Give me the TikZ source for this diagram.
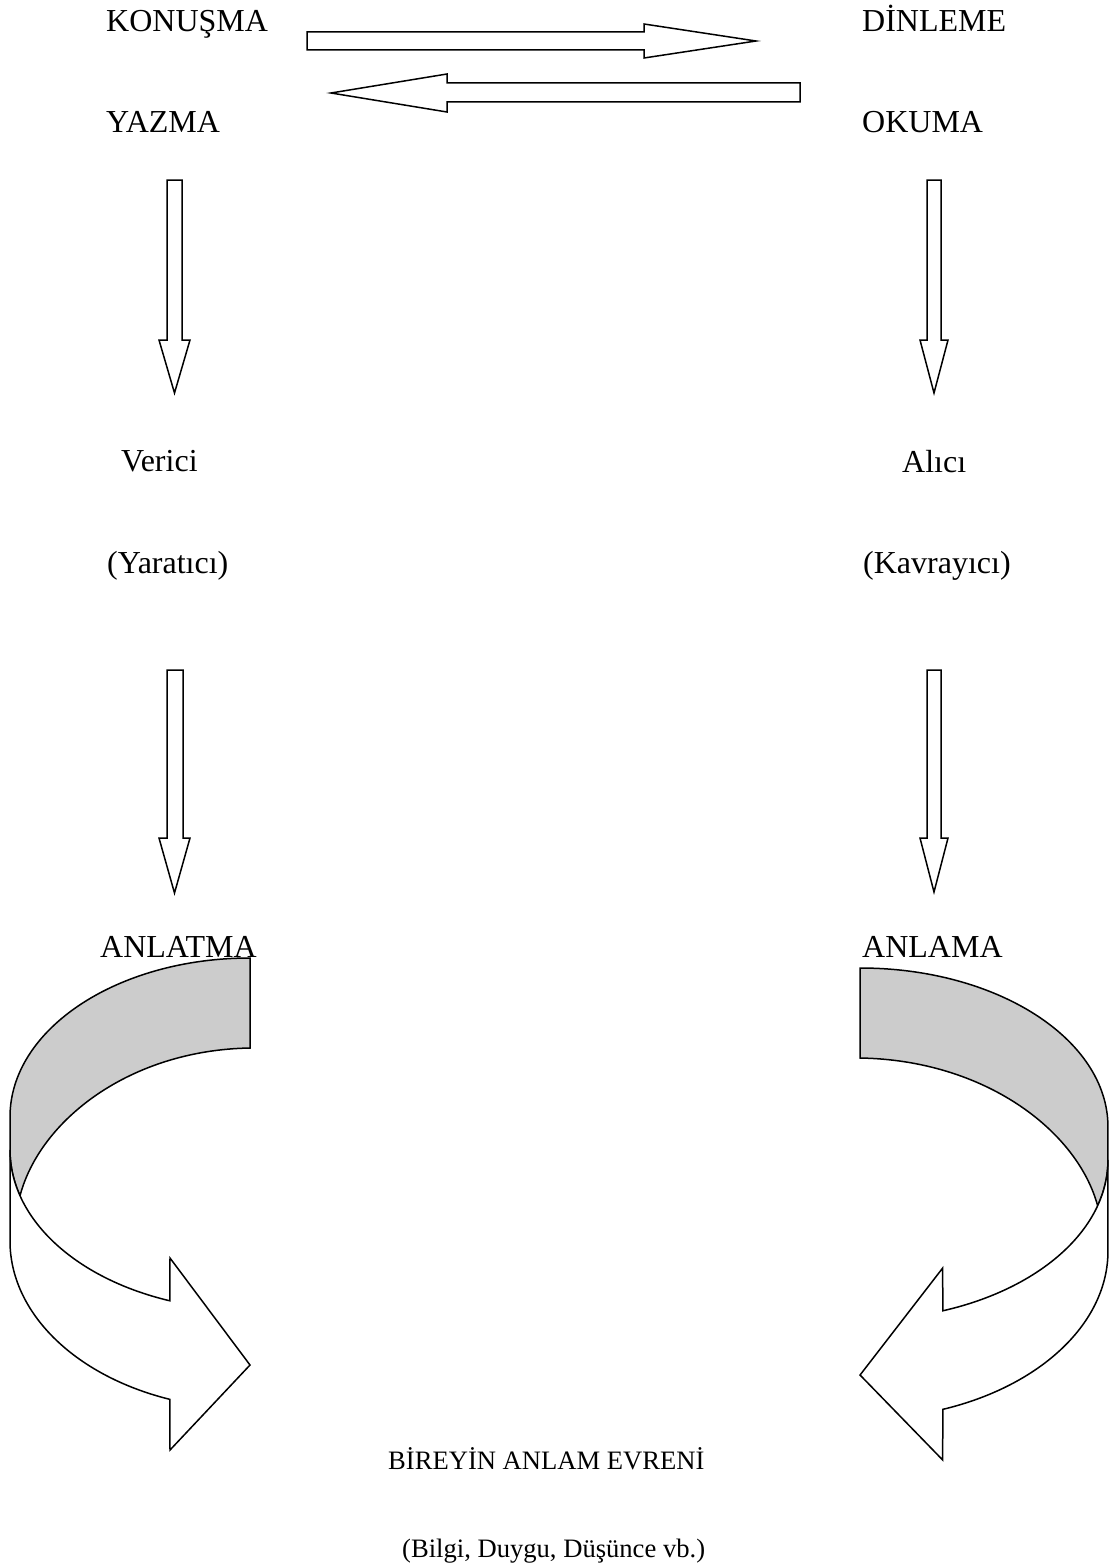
\documentclass[tikz,border=0pt]{standalone}
\usepackage{fontspec}
\setmainfont{Liberation Serif}
\definecolor{bandgray}{HTML}{CCCCCC}
\tikzset{
  blk/.style={draw=black, fill=white, line width=1.5pt, line join=miter},
  bandside/.style={draw=black, fill=bandgray, line width=1.5pt, line join=miter},
  lbl/.style={anchor=base west, inner sep=0pt, font=\fontsize{32}{38}\selectfont},
  lbls/.style={anchor=base west, inner sep=0pt, font=\fontsize{26.6}{32}\selectfont},
}
\begin{document}
\begin{tikzpicture}[x=1pt,y=-1pt]
\useasboundingbox (0,0) rectangle (1109,1568);
\fill[white] (0,0) rectangle (1109,1568);

% labels
\node[lbl] (konusma) at (106,32) {KONUŞMA};
\node[lbl] (dinleme) at (862,32) {DİNLEME};
\node[lbl] (yazma) at (106,132) {YAZMA};
\node[lbl] (okuma) at (862,132) {OKUMA};
\node[lbl] (verici) at (121,471) {Verici};
\node[lbl] (alici) at (902,472) {Alıcı};
\node[lbl] (yaratici) at (107,573) {(Yaratıcı)};
\node[lbl] (kavrayici) at (863,573) {(Kavrayıcı)};
\node[lbl] (anlatma) at (100,957) {ANLATMA};
\node[lbl] (anlama) at (862,957) {ANLAMA};
\node[lbls] (evren) at (388,1469) {BİREYİN ANLAM EVRENİ};
\node[lbls] (bilgi) at (402,1557) {(Bilgi, Duygu, Düşünce vb.)};

% horizontal block arrows
\draw[blk] (307,32) -- (644,32) -- (644,24) -- (756,41) -- (644,58) -- (644,50) -- (307,50) -- cycle;
\draw[blk] (800,83) -- (447,83) -- (447,74) -- (331,93) -- (447,112) -- (447,102) -- (800,102) -- cycle;

% vertical block arrows
\draw[blk] (167,180) -- (182,180) -- (182,340) -- (190,340) -- (174.5,393) -- (159,340) -- (167,340) -- cycle;
\draw[blk] (927,180) -- (941,180) -- (941,340) -- (948,340) -- (934,393) -- (920,340) -- (927,340) -- cycle;
\draw[blk] (167,670) -- (183,670) -- (183,838) -- (190,838) -- (174.5,893) -- (159,838) -- (167,838) -- cycle;
\draw[blk] (927,670) -- (941,670) -- (941,838) -- (948,838) -- (934,892) -- (920,838) -- (927,838) -- cycle;

% left curved arrow
\draw[bandside] (250,958) arc[start angle=270, end angle=180, x radius=240, y radius=159]
  -- (10,1150) arc[start angle=180, end angle=163.4, x radius=240, y radius=160]
  .. controls (40,1120) and (130,1050) .. (250,1048) -- cycle;
\draw[blk] (169.9,1300.8) arc[start angle=109.5, end angle=180, x radius=240, y radius=160]
  -- (10,1241) arc[start angle=180, end angle=109.5, x radius=240, y radius=168]
  -- (170,1450) -- (250,1365) -- (170,1258) -- cycle;

% right curved arrow (mirrored)
\begin{scope}[shift={(1118.3,10)}, xscale=-1.033]
\draw[bandside] (250,958) arc[start angle=270, end angle=180, x radius=240, y radius=159]
  -- (10,1150) arc[start angle=180, end angle=163.4, x radius=240, y radius=160]
  .. controls (40,1120) and (130,1050) .. (250,1048) -- cycle;
\draw[blk] (169.9,1300.8) arc[start angle=109.5, end angle=180, x radius=240, y radius=160]
  -- (10,1241) arc[start angle=180, end angle=109.5, x radius=240, y radius=168]
  -- (170,1450) -- (250,1365) -- (170,1258) -- cycle;
\end{scope}
\end{tikzpicture}
\end{document}
